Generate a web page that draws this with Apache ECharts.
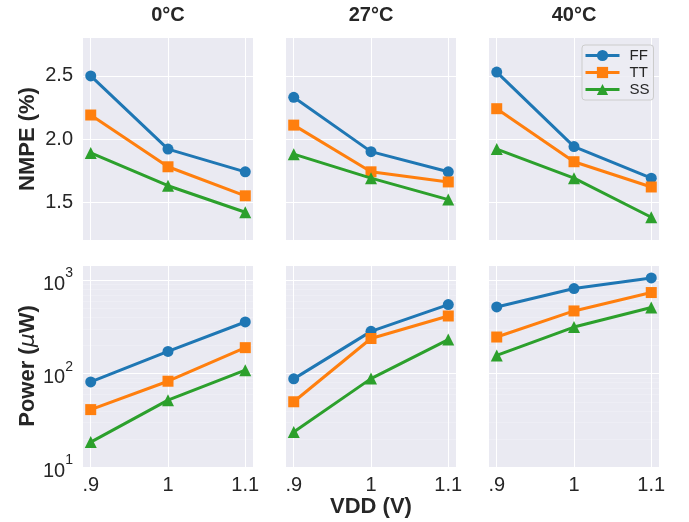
<!DOCTYPE html>
<html>
<head>
<meta charset="utf-8">
<script src="https://cdn.jsdelivr.net/npm/echarts@6/dist/echarts.min.js"></script>
<style>
  html, body { margin: 0; padding: 0; background: #fff; }
  #chart { width: 689px; height: 522px; }
</style>
</head>
<body>
<div id="chart"></div>
<script>
// data
var temps = ['0°C', '27°C', '40°C']
var corners = ['FF', 'TT', 'SS']
var vdd = [0.9, 1, 1.1]
var xTickValues = [0.9, 1, 1.1]
var xTickLabels = ['.9', '1', '1.1']
var nmpeTicks = [1.5, 2.0, 2.5]
var powerTicks = [10, 100, 1000]
var powerTickExp = ['1', '2', '3']
var powerMinor = [20, 30, 40, 50, 60, 70, 80, 90, 200, 300, 400, 500, 600, 700, 800, 900]

// one row per temperature (0, 27, 40 °C), values at .9 / 1 / 1.1 V
var nmpeFF = [[2.50, 1.92, 1.74], [2.33, 1.90, 1.74], [2.53, 1.94, 1.69]]
var nmpeTT = [[2.19, 1.78, 1.55], [2.11, 1.74, 1.66], [2.24, 1.82, 1.62]]
var nmpeSS = [[1.89, 1.63, 1.42], [1.88, 1.69, 1.52], [1.92, 1.69, 1.38]]

var powerFF = [[81.5, 173, 358], [88, 284, 550], [519, 817, 1062]]
var powerTT = [[41.2, 83, 190], [50, 238, 415], [247, 470, 740]]
var powerSS = [[18.5, 52, 109], [23.7, 88.5, 232], [157, 316, 511]]

var nmpe = { FF: nmpeFF, TT: nmpeTT, SS: nmpeSS }
var power = { FF: powerFF, TT: powerTT, SS: powerSS }

var colors = { FF: '#1f77b4', TT: '#ff7f0e', SS: '#2ca02c' }
var symbols = { FF: 'circle', TT: 'rect', SS: 'triangle' }
var font = '"Liberation Sans", Arial, Helvetica, sans-serif'
var textColor = '#262626'

var chart = echarts.init(document.getElementById('chart'))

var lefts = [83, 286, 489]
var tops = [38, 265]
var grids = []
var xAxes = []
var yAxes = []
var series = []
var graphics = []

for (var r = 0; r < 2; r++) {
  for (var c = 0; c < 3; c++) {
    var idx = r * 3 + c
    grids.push({
      left: lefts[c],
      top: tops[r],
      width: 170,
      height: 202,
      show: true,
      backgroundColor: '#eaeaf2',
      borderWidth: 0
    })
    xAxes.push({
      type: 'value',
      gridIndex: idx,
      min: 0.89,
      max: 1.11,
      axisLine: { show: false },
      axisTick: { show: false, customValues: xTickValues },
      splitLine: { show: true, lineStyle: { color: '#ffffff', width: 1 } },
      axisLabel: {
        show: r === 1,
        customValues: xTickValues,
        margin: 8,
        fontSize: 20,
        fontFamily: font,
        color: textColor,
        formatter: function (v) {
          for (var i = 0; i < xTickValues.length; i++) {
            if (Math.abs(xTickValues[i] - v) < 1e-6) return xTickLabels[i]
          }
          return ''
        }
      },
      name: (r === 1 && c === 1) ? 'VDD (V)' : '',
      nameLocation: 'middle',
      nameGap: 28,
      nameTextStyle: { fontSize: 22, fontWeight: 'bold', fontFamily: font, color: textColor }
    })
    if (r === 0) {
      yAxes.push({
        type: 'value',
        gridIndex: idx,
        min: 1.2,
        max: 2.8,
        axisLine: { show: false },
        axisTick: { show: false, customValues: nmpeTicks },
        splitLine: { show: true, lineStyle: { color: '#ffffff', width: 1 } },
        axisLabel: {
          show: c === 0,
          customValues: nmpeTicks,
          margin: 10,
          fontSize: 20,
          fontFamily: font,
          color: textColor,
          formatter: function (v) { return v.toFixed(1) }
        },
        name: c === 0 ? 'NMPE (%)' : '',
        nameLocation: 'middle',
        nameGap: 44,
        nameTextStyle: { fontSize: 22, fontWeight: 'bold', fontFamily: font, color: textColor }
      })
    } else {
      yAxes.push({
        type: 'log',
        logBase: 10,
        gridIndex: idx,
        min: 10,
        max: 1460,
        axisLine: { show: false },
        axisTick: { show: false },
        splitLine: { show: true, lineStyle: { color: '#ffffff', width: 1 } },
        axisLabel: {
          show: c === 0,
          margin: 10,
          color: textColor,
          formatter: function (v) {
            for (var i = 0; i < powerTicks.length; i++) {
              if (Math.abs(powerTicks[i] - v) < 1e-3 * v) return '{n|10}{s|' + powerTickExp[i] + '}'
            }
            return ''
          },
          rich: {
            n: { fontSize: 20, lineHeight: 28, verticalAlign: 'bottom', fontFamily: font, color: textColor },
            s: { fontSize: 14, lineHeight: 14, verticalAlign: 'top', fontFamily: font, color: textColor }
          }
        },
        name: c === 0 ? '{b|Power (}{m|μ}{b|W)}' : '',
        nameLocation: 'middle',
        nameGap: 44,
        nameTextStyle: {
          rich: {
            b: { fontSize: 22, fontWeight: 'bold', fontFamily: font, color: textColor },
            m: { fontSize: 22, fontStyle: 'italic', fontFamily: '"DejaVu Sans", sans-serif', color: textColor }
          }
        }
      })
    }

    corners.forEach(function (k, ki) {
      var src = r === 0 ? nmpe[k][c] : power[k][c]
      var s = {
        name: k,
        type: 'line',
        xAxisIndex: idx,
        yAxisIndex: idx,
        data: vdd.map(function (v, i) { return [v, src[i]] }),
        symbol: symbols[k],
        symbolSize: k === 'SS' ? 12 : 11,
        color: colors[k],
        lineStyle: { width: 3, color: colors[k] },
        itemStyle: { color: colors[k] },
        z: 3 + ki,
        silent: true,
        animation: false
      }
      if (r === 1 && ki === 0) {
        s.markLine = {
          silent: true,
          symbol: 'none',
          z: 1,
          label: { show: false },
          lineStyle: { color: '#ffffff', width: 0.5, type: 'solid', opacity: 0.45 },
          data: powerMinor.map(function (v) { return { yAxis: v } })
        }
      }
      series.push(s)
    })
  }
}

// column titles
temps.forEach(function (t, c) {
  graphics.push({
    type: 'text',
    x: lefts[c] + 85,
    y: 15,
    style: {
      text: t,
      font: 'bold 20px ' + font,
      fill: textColor,
      textAlign: 'center',
      textVerticalAlign: 'middle'
    }
  })
})

chart.setOption({
  animation: false,
  backgroundColor: '#ffffff',
  grid: grids,
  xAxis: xAxes,
  yAxis: yAxes,
  series: series,
  graphic: graphics,
  legend: {
    data: corners,
    orient: 'vertical',
    left: 582,
    top: 45,
    itemWidth: 34,
    itemHeight: 14,
    itemGap: 2,
    padding: [3, 4, 3, 2],
    backgroundColor: 'rgba(236,236,243,0.85)',
    borderColor: '#cccccc',
    borderWidth: 1,
    borderRadius: 3,
    lineStyle: { width: 3 },
    textStyle: { fontSize: 15, fontFamily: font, color: textColor, padding: [0, 0, 0, 5] }
  }
})
</script>
</body>
</html>
